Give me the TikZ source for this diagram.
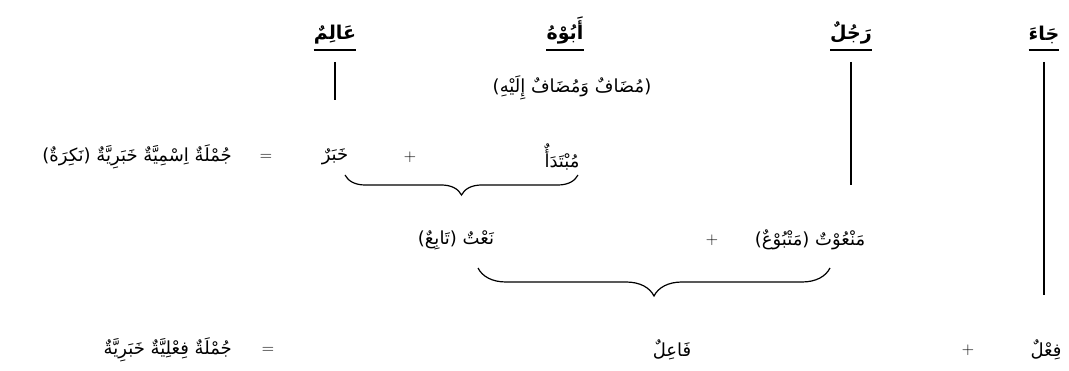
\documentclass[tikz,border=0pt]{standalone}
\usepackage{fontspec}
\usetikzlibrary{decorations.pathreplacing}
\newfontfamily\arabicfont[Script=Arabic]{DejaVu Sans}
\TeXXeTstate=1
\begin{document}
\begin{tikzpicture}[x=1pt,y=-1pt,
  ar/.style={font=\arabicfont\fontsize{18}{21}\selectfont, inner sep=0pt},
  head/.style={font=\arabicfont\bfseries\fontsize{19}{22}\selectfont, inner sep=0pt, anchor=south},
  op/.style={font=\fontsize{17}{20}\selectfont, inner sep=0pt},
  uline/.style={line width=2.2pt},
  vline/.style={line width=1.5pt},
  bracestyle/.style={line width=1.2pt, decorate, decoration={brace, mirror, amplitude=#1}}
]
\useasboundingbox (0,0) rectangle (1069,371);
% top row
\node[head] (alim)  at (335,44) {\beginR عَالِمٌ\endR};
\node[head] (abuhu) at (565,44) {\beginR أَبُوْهُ\endR};
\node[head] (rajul) at (851,44) {\beginR رَجُلٌ\endR};
\node[head] (jaa)   at (1044,44) {\beginR جَاءَ\endR};
\foreach \n in {alim,abuhu,rajul,jaa}{
  \draw[uline] ([yshift=-6pt]\n.south west) -- ([yshift=-6pt]\n.south east);
}
% vertical lines
\coordinate (alimEnd)  at (alim.south |- 0,100);
\coordinate (rajulEnd) at (rajul.south |- 0,185);
\coordinate (jaaEnd)   at (jaa.south |- 0,295);
\draw[vline] ([yshift=-18pt]alim.south) -- (alimEnd);
\draw[vline] ([yshift=-18pt]rajul.south) -- (rajulEnd);
\draw[vline] ([yshift=-18pt]jaa.south) -- (jaaEnd);
% row 2
\node[ar] (mudaf) at (572,88) {\beginR(مُضَافٌ وَمُضَافٌ إِلَيْهِ)\endR};
% row 3
\node[ar, anchor=east] (jumla1) at (232,157) {\beginR جُمْلَةٌ اِسْمِيَّةٌ خَبَرِيَّةٌ (نَكِرَةٌ)\endR};
\node[op] (eq1) at (266,157) {=};
\node[ar] (khabar) at (335,157) {\beginR خَبَرٌ\endR};
\node[op] (plus1) at (410,157) {+};
\node[ar] (mubtada) at (562,157) {\beginR مُبْتَدَأٌ\endR};
\coordinate (b1l) at (345,175);
\coordinate (b1r) at (578,175);
\draw[bracestyle=20pt] (b1l) -- (b1r);
% row 4
\node[ar] (naat) at (456,240) {\beginR نَعْتٌ (تَابِعٌ)\endR};
\node[op] (plus2) at (712,240) {+};
\node[ar] (manut) at (810,240) {\beginR مَنْعُوْتٌ (مَتْبُوْعٌ)\endR};
\coordinate (b2l) at (478,268);
\coordinate (b2r) at (830,268);
\draw[bracestyle=28pt] (b2l) -- (b2r);
% row 5
\node[ar, anchor=east] (jumla2) at (232,350) {\beginR جُمْلَةٌ فِعْلِيَّةٌ خَبَرِيَّةٌ\endR};
\node[op] (eq2) at (268,350) {=};
\node[ar] (fail) at (672,350) {\beginR فَاعِلٌ\endR};
\node[op] (plus3) at (968,350) {+};
\node[ar] (fil) at (1046,350) {\beginR فِعْلٌ\endR};
\end{tikzpicture}
\end{document}
